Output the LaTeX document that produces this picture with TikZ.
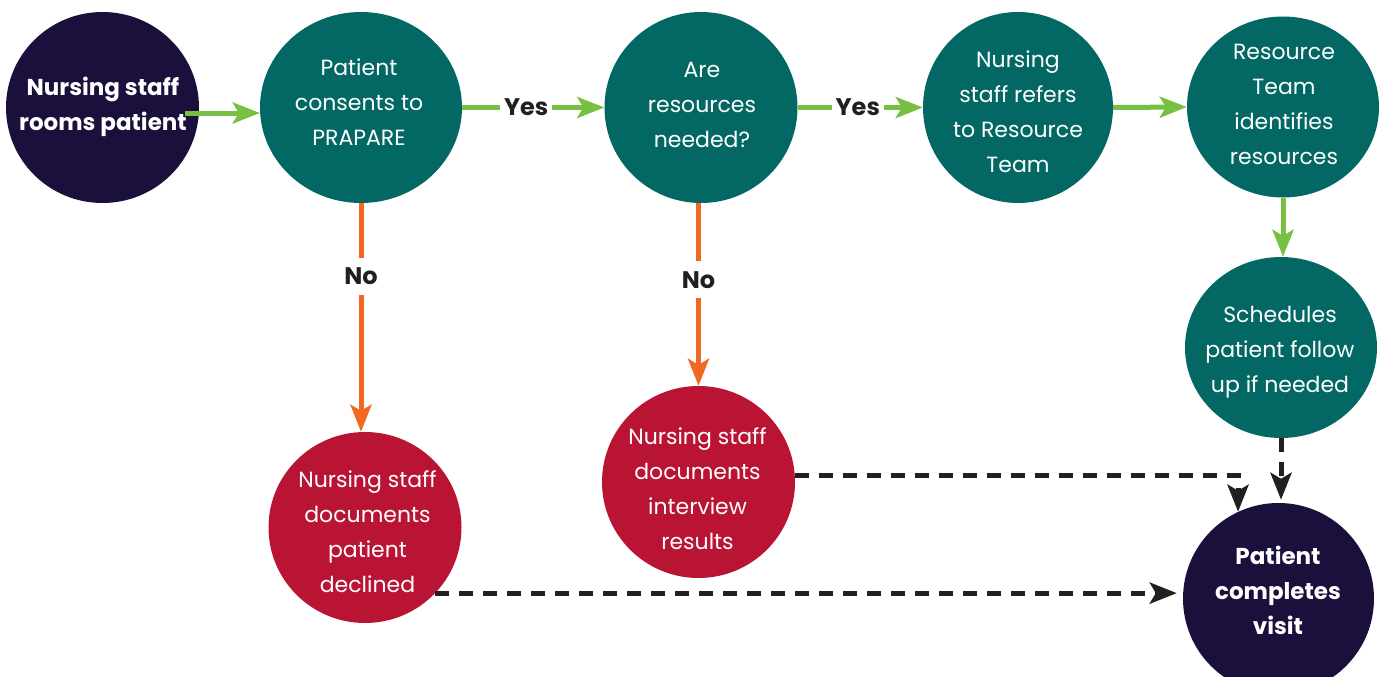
\documentclass[tikz,border=0pt]{standalone}
\usepackage{fontspec}
\setmainfont{Poppins}
\usetikzlibrary{shapes.geometric,arrows.meta}

\definecolor{navy}{HTML}{1B0F3B}
\definecolor{teal}{HTML}{036863}
\definecolor{crimson}{HTML}{BA1434}
\definecolor{leaf}{HTML}{77C043}
\definecolor{tangerine}{HTML}{F26722}
\definecolor{ink}{HTML}{231F20}

% struts that make a text block centre on the middle of its first and last baselines
\newcommand{\hiStrut}{\rule{0pt}{20pt}}
\newcommand{\loStrut}{\rule[-20pt]{0pt}{20pt}}

\begin{document}
\begin{tikzpicture}[x=1pt,y=-1pt,
  stage/.style={ellipse, draw=none, inner sep=0pt},
  txt/.style={align=center, text=white, inner sep=0pt,
    font=\fontsize{22}{35}\selectfont},
  boldtxt/.style={txt, font=\fontsize{23}{35}\selectfont\bfseries},
  tip/.style={-{Stealth[length=27pt,width=21pt,inset=6pt]}},
  go/.style={tip, draw=leaf, line width=5pt},
  stop/.style={tip, draw=tangerine, line width=5pt},
  after/.style={tip, draw=ink, line width=5pt, dash pattern=on 14pt off 10pt},
  answer/.style={fill=white, text=ink, inner xsep=4pt, inner ysep=10pt,
    font=\fontsize{24}{28}\selectfont\bfseries}]
\useasboundingbox (0,0) rectangle (1385,677);

% stages
\node[stage, fill=navy,    minimum width=193pt, minimum height=191pt] (n1) at (102.5,107.5) {};
\node[stage, fill=teal,    minimum width=202pt, minimum height=191pt] (n2) at (361,107.5) {};
\node[stage, fill=teal,    minimum width=193pt, minimum height=191pt] (n3) at (701,107.5) {};
\node[stage, fill=teal,    minimum width=190pt, minimum height=191pt] (n4) at (1018,107.5) {};
\node[stage, fill=teal,    minimum width=192pt, minimum height=181pt] (n5) at (1283,107) {};
\node[stage, fill=teal,    minimum width=192pt, minimum height=181pt] (n6) at (1281,347.5) {};
\node[stage, fill=navy,    minimum width=191pt, minimum height=191pt] (n7) at (1278.5,598.5) {};
\node[stage, fill=crimson, minimum width=193pt, minimum height=191pt] (n8) at (365,527.5) {};
\node[stage, fill=crimson, minimum width=193pt, minimum height=192pt] (n9) at (698.5,482) {};

% stage texts
\node[boldtxt] (t1) at (103,112.5) {\hiStrut Nursing staff\\rooms patient\loStrut};
\node[txt] (t2) at (359,110.5) {\hiStrut Patient\\consents to\\PRAPARE\loStrut};
\node[txt] (t3) at (702,112) {\hiStrut Are\\resources\\needed?\loStrut};
\node[txt] (t4) at (1018,120) {\hiStrut Nursing\\staff refers\\to Resource\\Team\loStrut};
\node[txt] (t5) at (1284,111.5) {\hiStrut Resource\\Team\\identifies\\resources\loStrut};
\node[txt] (t6) at (1280,357) {\hiStrut Schedules\\patient follow\\up if needed\loStrut};
\node[boldtxt] (t7) at (1278,599) {\hiStrut Patient\\completes\\visit\loStrut};
\node[txt] (t8) at (367.5,539.5) {\hiStrut Nursing staff\\documents\\patient\\declined\loStrut};
\node[txt] (t9) at (697.5,496.5) {\hiStrut Nursing staff\\documents\\interview\\results\loStrut};

% main line of the process
\coordinate (s1) at (185,113);
\draw[go] (s1) -- (s1 -| n2.west);
\draw[go] (n2.east) -- node[answer, pos=0.45] (y1) {Yes} (n3.west);
\draw[go] (n3.east) -- node[answer, pos=0.48] (y2) {Yes} (n4.west);
\draw[go] (n4.east) -- (n5.west);
\draw[go] (n5.south) -- (n5.south |- n6.north);

% declined branches
\draw[stop] (n2.south) -- node[answer, pos=0.32] (no1) {No} (n2.south |- n8.north);
\draw[stop] (n9.north |- n3.south) -- node[answer, pos=0.42] (no2) {No} (n9.north);

% towards the end of the visit
\draw[after, shorten >=3pt] (n6.south) -- (n6.south |- n7.north);
\draw[after] (n9.4) -| (n7.115);
\draw[after, shorten >=6pt] (n8.-43) -- (n8.-43 -| n7.west);
\end{tikzpicture}
\end{document}
